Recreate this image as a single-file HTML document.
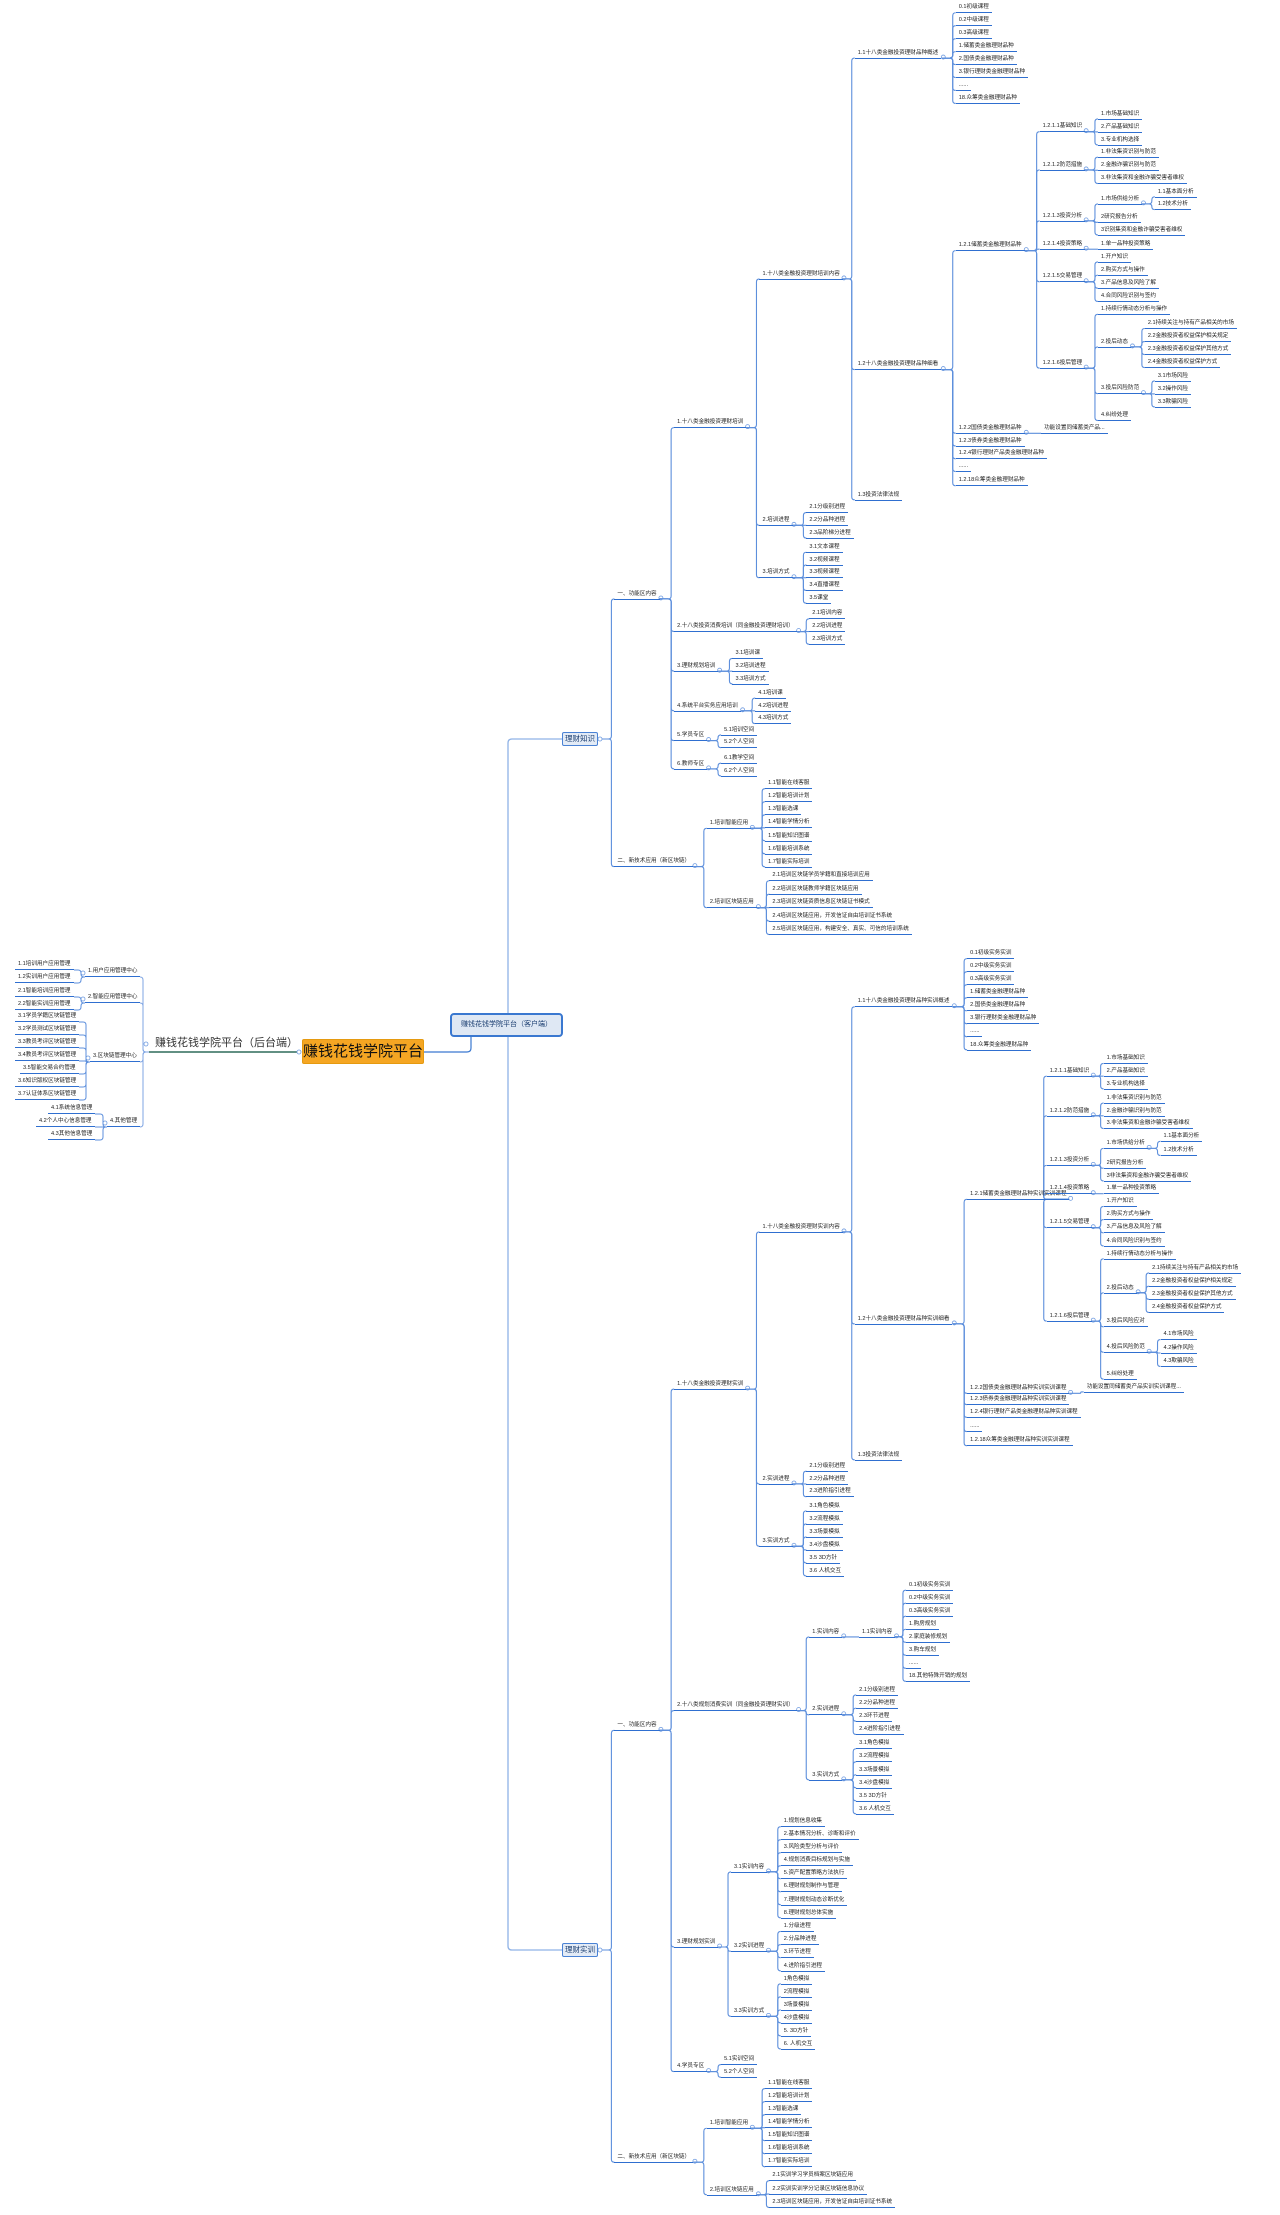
<!DOCTYPE html>
<html><head><meta charset="utf-8">
<style>
html,body{margin:0;padding:0;background:#fff;}
body{width:1280px;height:2215px;position:relative;overflow:hidden;font-family:"Liberation Sans","Noto Sans CJK SC",sans-serif;}
.n{position:absolute;white-space:nowrap;font-size:5.6px;line-height:7px;color:#222;padding:0 3px 1px 3px;border-bottom:1.4px solid #2f6fd0;}
.box{position:absolute;white-space:nowrap;text-align:center;box-sizing:border-box;}
svg{position:absolute;left:0;top:0;}
</style></head><body>
<svg id="sv" width="1280" height="2215"></svg>
<div class="box" style="left:302px;top:1039px;width:122px;height:25px;background:#f5a623;border:1px solid #e59a10;border-radius:2px;font-size:15px;line-height:23px;color:#111;">赚钱花钱学院平台</div>
<div class="box" style="left:450px;top:1013px;width:113px;height:24px;background:#dfe8f4;border:2px solid #3a78d0;border-radius:4px;font-size:7px;line-height:20px;color:#1a3d70;">赚钱花钱学院平台（客户端）</div>
<div class="box" style="left:562px;top:732px;width:36px;height:14px;background:#e3ebf6;border:1px solid #4a82d4;border-radius:2px;font-size:7.5px;line-height:12px;color:#1a3d70;">理财知识</div>
<div class="box" style="left:562px;top:1943px;width:36px;height:14px;background:#e3ebf6;border:1px solid #4a82d4;border-radius:2px;font-size:7.5px;line-height:12px;color:#1a3d70;">理财实训</div>
<div style="position:absolute;left:155px;top:1037px;font-size:11px;line-height:13px;color:#333;white-space:nowrap;">赚钱花钱学院平台（后台端）</div>
<script>
const S=1280/900, SY=1.416;
const sv=document.getElementById('sv');
let P='';
function N(x,y,t,k){return {x:x,y:y,t:t,k:k||[]};}
function seq(x,y0,st,ts){return ts.map((t,i)=>N(x,y0+i*st,t));}
const top1_1=seq(672,9,9.15,['0.1初级课程','0.2中级课程','0.3高级课程','1.储蓄类金融理财品种','2.国债类金融理财品种','3.银行理财类金融理财品种','......','18.众筹类金融理财品种']);
const t1211=N(731,93,'1.2.1.1基础知识',seq(772,84,9.2,['1.市场基础知识','2.产品基础知识','3.专业机构选择']));
const t1212=N(731,120,'1.2.1.2防范措施',seq(772,111,9.3,['1.非法集资识别与防范','2.金融诈骗识别与防范','3.非法集资和金融诈骗受害者维权']));
const t1213=N(731,156,'1.2.1.3投资分析',[N(772,144,'1.市场供给分析',[N(812,139,'1.1基本面分析'),N(812,148,'1.2技术分析')]),N(772,157,'2研究报告分析'),N(772,166,'3识别集资和金融诈骗受害者维权')]);
const t1214=N(731,176,'1.2.1.4投资策略',[N(772,176,'1.单一品种投资策略')]);
const t1215=N(731,199,'1.2.1.5交易管理',seq(772,185,9.3,['1.开户知识','2.购买方式与操作','3.产品信息及风险了解','4.合同风险识别与签约']));
const t1216=N(731,260,'1.2.1.6投后管理',[N(772,222,'1.持续行情动态分析与操作'),N(772,245,'2.投后动态',seq(805,232,9.2,['2.1持续关注与持有产品相关的市场','2.2金融投资者权益保护相关规定','2.3金融投资者权益保护其他方式','2.4金融投资者权益保护方式'])),N(772,278,'3.投后风险防范',seq(812,269,9.2,['3.1市场风险','3.2操作风险','3.3欺骗风险'])),N(772,297,'4.纠纷处理')]);
const top1_2=[N(672,177,'1.2.1储蓄类金融理财品种',[t1211,t1212,t1213,t1214,t1215,t1216]),N(672,306,'1.2.2国债类金融理财品种',[N(732,306,'功能设置同储蓄类产品...')]),N(672,315,'1.2.3债券类金融理财品种'),N(672,324,'1.2.4银行理财产品类金融理财品种'),N(672,333,'......'),N(672,343,'1.2.18众筹类金融理财品种')];
const zs=N(395,522,'',[
 N(432,423,'一、功能区内容',[
  N(474,302,'1.十八类金融投资理财培训',[
   N(534,197,'1.十八类金融投资理财培训内容',[N(601,41,'1.1十八类金融投资理财品种概述',top1_1),N(601,261,'1.2十八类金融投资理财品种细看',top1_2),N(601,353,'1.3投资法律法规')]),
   N(534,371,'2.培训进程',seq(567,362,9,['2.1分级别进程','2.2分品种进程','2.3品阶梯分进程'])),
   N(534,408,'3.培训方式',seq(567,390,9,['3.1文本课程','3.2视频课程','3.3视频课程','3.4直播课程','3.5课堂']))]),
  N(474,446,'2.十八类投资消费培训（同金融投资理财培训）',seq(569,437,9,['2.1培训内容','2.2培训进程','2.3培训方式'])),
  N(474,474,'3.理财规划培训',seq(515,465,9,['3.1培训课','3.2培训进程','3.3培训方式'])),
  N(474,502,'4.系统平台实务应用培训',seq(531,493,9,['4.1培训课','4.2培训进程','4.3培训方式'])),
  N(474,523,'5.学员专区',seq(507,519,9,['5.1培训空间','5.2个人空间'])),
  N(474,543,'6.教师专区',seq(507,539,9,['6.1教学空间','6.2个人空间']))]),
 N(432,612,'二、新技术应用（新区块链）',[
  N(497,585,'1.培训智能应用',seq(538,557,9.2,['1.1智能在线客服','1.2智能培训计划','1.3智能选课','1.4智能学情分析','1.5智能知识图谱','1.6智能培训系统','1.7智能实际培训'])),
  N(497,641,'2.培训区块链应用',seq(541,622,9.5,['2.1培训区块链学员学籍和直接培训应用','2.2培训区块链教师学籍区块链应用','2.3培训区块链资质信息区块链证书模式','2.4培训区块链应用，开发信证自由培训证书系统','2.5培训区块链应用，构建安全、真实、可信的培训系统']))])]);
const b1_1=seq(680,677,9.2,['0.1初级实务实训','0.2中级实务实训','0.3高级实务实训','1.储蓄类金融理财品种','2.国债类金融理财品种','3.银行理财类金融理财品种','......','18.众筹类金融理财品种']);
const b121=N(680,847,'1.2.1储蓄类金融理财品种实训实训课程',[
 N(736,760,'1.2.1.1基础知识',seq(776,751,9,['1.市场基础知识','2.产品基础知识','3.专业机构选择'])),
 N(736,788,'1.2.1.2防范措施',seq(776,779,9,['1.非法集资识别与防范','2.金融诈骗识别与防范','3.非法集资和金融诈骗受害者维权'])),
 N(736,823,'1.2.1.3投资分析',[N(776,811,'1.市场供给分析',[N(816,806,'1.1基本面分析'),N(816,816,'1.2技术分析')]),N(776,825,'2研究报告分析'),N(776,834,'3非法集资和金融诈骗受害者维权')]),
 N(736,843,'1.2.1.4投资策略',[N(776,843,'1.单一品种投资策略')]),
 N(736,867,'1.2.1.5交易管理',seq(776,852,9.3,['1.开户知识','2.购买方式与操作','3.产品信息及风险了解','4.合同风险识别与签约'])),
 N(736,933,'1.2.1.6投后管理',[N(776,889,'1.持续行情动态分析与操作'),N(776,913,'2.投后动态',seq(808,899,9.3,['2.1持续关注与持有产品相关的市场','2.2金融投资者权益保护相关规定','2.3金融投资者权益保护其他方式','2.4金融投资者权益保护方式'])),N(776,937,'3.投后风险应对'),N(776,955,'4.投后风险防范',seq(816,946,9.5,['4.1市场风险','4.2操作风险','4.3欺骗风险'])),N(776,974,'5.纠纷处理')])]);
const b1_2=[b121,N(680,984,'1.2.2国债类金融理财品种实训实训课程',[N(762,983,'功能设置同储蓄类产品实训实训课程...')]),N(680,992,'1.2.3债券类金融理财品种实训实训课程'),N(680,1001,'1.2.4银行理财产品类金融理财品种实训课程'),N(680,1011,'......'),N(680,1021,'1.2.18众筹类金融理财品种实训实训课程')];
const sx=N(395,1378,'',[
 N(432,1222,'一、功能区内容',[
  N(474,981,'1.十八类金融投资理财实训',[
   N(534,870,'1.十八类金融投资理财实训内容',[N(601,711,'1.1十八类金融投资理财品种实训概述',b1_1),N(601,935,'1.2十八类金融投资理财品种实训细看',b1_2),N(601,1031,'1.3投资法律法规')]),
   N(534,1048,'2.实训进程',seq(567,1039,9,['2.1分级别进程','2.2分品种进程','2.3进阶指引进程'])),
   N(534,1092,'3.实训方式',seq(567,1067,9.2,['3.1角色模拟','3.2流程模拟','3.3场景模拟','3.4沙盘模拟','3.5 3D方针','3.6 人机交互']))]),
  N(474,1208,'2.十八类规划消费实训（同金融投资理财实训）',[
   N(569,1156,'1.实训内容',[N(604,1156,'1.1实训内容',seq(637,1123,9.2,['0.1初级实务实训','0.2中级实务实训','0.3高级实务实训','1.购房规划','2.家庭装修规划','3.购车规划','......','18.其他特殊开销的规划']))]),
   N(569,1211,'2.实训进程',seq(602,1197,9.3,['2.1分级别进程','2.2分品种进程','2.3环节进程','2.4进阶指引进程'])),
   N(569,1257,'3.实训方式',seq(602,1235,9.2,['3.1角色模拟','3.2流程模拟','3.3场景模拟','3.4沙盘模拟','3.5 3D方针','3.6 人机交互']))]),
  N(474,1375,'3.理财规划实训',[
   N(514,1322,'3.1实训内容',seq(549,1290,9.2,['1.规划信息收集','2.基本情况分析、诊断和评价','3.风险类型分析与评价','4.规划消费目标规划与实施','5.资产配置策略方法执行','6.理财规划制作与管理','7.理财规划动态诊断优化','8.理财规划总体实施'])),
   N(514,1378,'3.2实训进程',seq(549,1364,9.3,['1.分级进程','2.分品种进程','3.环节进程','4.进阶指引进程'])),
   N(514,1424,'3.3实训方式',seq(549,1401,9.2,['1角色模拟','2流程模拟','3场景模拟','4沙盘模拟','5. 3D方针','6. 人机交互']))]),
  N(474,1463,'4.学员专区',seq(507,1458,9,['5.1实训空间','5.2个人空间']))]),
 N(432,1527,'二、新技术应用（新区块链）',[
  N(497,1503,'1.培训智能应用',seq(538,1475,9.2,['1.1智能在线客服','1.2智能培训计划','1.3智能选课','1.4智能学情分析','1.5智能知识图谱','1.6智能培训系统','1.7智能实际培训'])),
  N(497,1550,'2.培训区块链应用',seq(541,1540,9.5,['2.1实训学习学员档案区块链应用','2.2实训实训学分记录区块链信息协议','2.3培训区块链应用，开发信证自由培训证书系统']))])]);
function mk(t,x,yb,cls){const d=document.createElement('div');d.className='n'+(cls?' '+cls:'');d.textContent=t;document.body.appendChild(d);d.style.left=x+'px';d.style.top=(yb-d.offsetHeight)+'px';return d;}
function conn(px,py,cx,cy,bx,col,w){const r=Math.min(3,Math.abs(cy-py)/2);const s=cy>py?1:-1;
 if(Math.abs(cy-py)<0.5){P+=`<path d="M${px},${py}L${cx},${cy}" stroke="${col}" stroke-width="${w}" fill="none"/>`;return;}
 const h=bx>px?1:-1; const h2=cx>bx?1:-1;
 P+=`<path d="M${px},${py}L${bx-h*r},${py}Q${bx},${py} ${bx},${py+s*r}L${bx},${cy-s*r}Q${bx},${cy} ${bx+h2*r},${cy}L${cx},${cy}" stroke="${col}" stroke-width="${w}" fill="none"/>`;}
function circ(x,y){P+=`<circle cx="${x}" cy="${y}" r="2" fill="#fff" stroke="#6f9be0" stroke-width="0.8"/>`;}
function draw(node,ax,ay){node.k.forEach(c=>{const cx=c.x*S,cy=c.y*SY;const d=mk(c.t,cx,cy+0.7);
 conn(ax,ay,cx,cy,cx-3,'#5d8fdc',1.1);
 if(c.k.length){const rx=cx+d.offsetWidth;circ(rx+1.5,cy-1);draw(c,rx,cy);}});}
draw(zs,598,739);circ(600,739);
draw(sx,598,1950);circ(600,1950);
P+=`<path d="M508,1013L508,743Q508,739 512,739L562,739" stroke="#8fb2e6" stroke-width="1.3" fill="none"/>`;
P+=`<path d="M508,1037L508,1946Q508,1950 512,1950L562,1950" stroke="#8fb2e6" stroke-width="1.3" fill="none"/>`;
P+=`<path d="M424,1052L467,1052Q471,1052 471,1048L471,1037" stroke="#3a78d0" stroke-width="1.2" fill="none"/>`;
P+=`<path d="M149,1052L300,1052" stroke="#2f6b5a" stroke-width="1.6" fill="none"/>`;circ(299,1052);circ(146,1044);
function mkr(t,r,yb){const d=mk(t,0,yb);d.style.left=(r-d.offsetWidth)+'px';return d;}
const L=[[977,'1.用户应用管理中心',[[970,'1.1培训用户应用管理'],[983,'1.2实训用户应用管理']],74],
[1003,'2.智能应用管理中心',[[997,'2.1智能培训应用管理'],[1010,'2.2智能实训应用管理']],74],
[1062,'3.区块链管理中心',[[1022,'3.1学员学籍区块链管理'],[1035,'3.2学员测试区块链管理'],[1048,'3.3教员考评区块链管理'],[1061,'3.4教员考评区块链管理'],[1074,'3.5智能交易合约管理'],[1087,'3.6知识版权区块链管理'],[1100,'3.7认证体系区块链管理']],79],
[1127,'4.其他管理',[[1114,'4.1系统信息管理'],[1127,'4.2个人中心信息管理'],[1140,'4.3其他信息管理']],95]];
L.forEach(g=>{const d=mkr(g[1],140,g[0]);const pl=140-d.offsetWidth;
 conn(149,1052,140,g[0],143,'#7fa5e3',1);
 circ(pl-2,g[0]-4);
 g[2].forEach(c=>{mkr(c[1],g[3],c[0]);conn(pl,g[0],g[3],c[0],pl-4,'#5d8fdc',1);});});
sv.innerHTML=P;
</script>
</body></html>
